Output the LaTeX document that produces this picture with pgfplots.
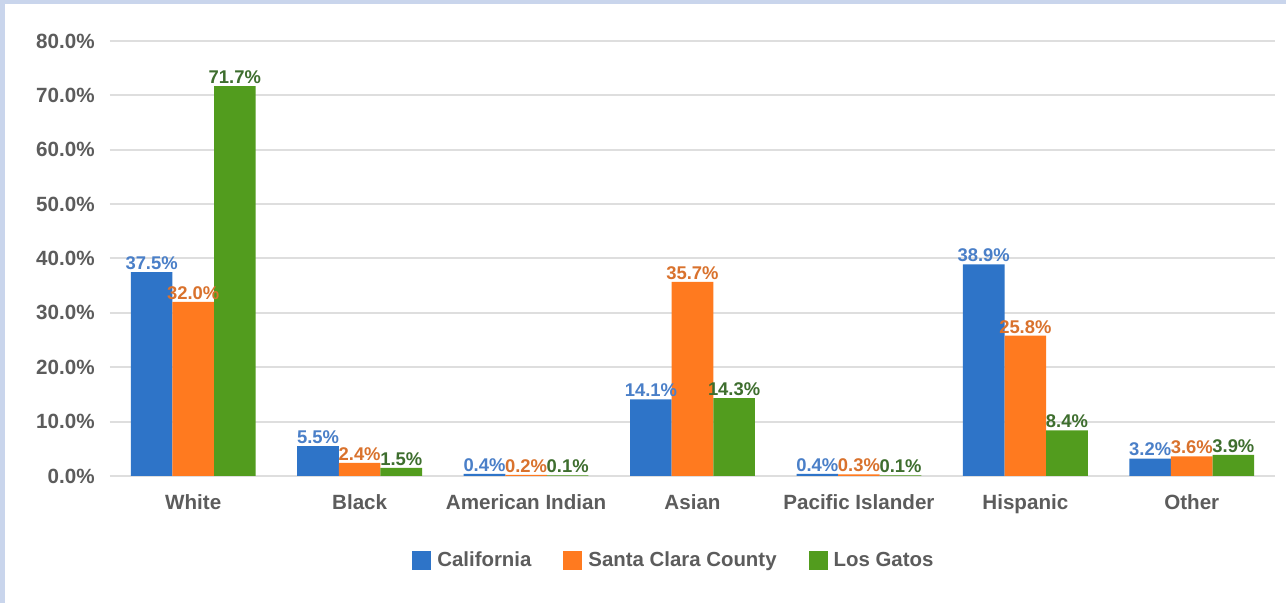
\documentclass[border=0pt]{standalone}
\usepackage{fontspec}
\setmainfont{Liberation Sans}
\usepackage{pgfplots}
\pgfplotsset{compat=1.18}
\definecolor{frameblue}{HTML}{C9D5EC}
\definecolor{cblue}{HTML}{2E74C8}
\definecolor{corange}{HTML}{FF7A1F}
\definecolor{cgreen}{HTML}{529C1E}
\definecolor{lblue}{HTML}{4A7FC8}
\definecolor{lorange}{HTML}{D9722D}
\definecolor{lgreen}{HTML}{3E6E2E}
\definecolor{txtgray}{HTML}{5C5C5C}
\definecolor{gridgray}{HTML}{DEDEDE}
\begin{document}
\begin{tikzpicture}
\fill[frameblue] (-55pt,-63.5pt) rectangle (588pt,238pt);
\fill[white] (-52.5pt,-63.5pt) rectangle (588pt,236pt);
\begin{axis}[
  at={(0pt,0pt)}, anchor=south west,
  scale only axis,
  width=582.5pt, height=217.5pt,
  ybar=0pt, bar width=20.8pt,
  xmin=-0.5, xmax=6.5,
  ymin=0, ymax=80,
  xtick={0,1,2,3,4,5,6},
  xticklabels={White,Black,American Indian,Asian,Pacific Islander,Hispanic,Other},
  ytick={0,10,20,30,40,50,60,70,80},
  yticklabel={\pgfmathprintnumber[fixed,fixed zerofill,precision=1,assume math mode=true]{\tick}\%},
  yticklabel style={anchor=east, inner sep=0pt, xshift=-7.5pt, text=txtgray, font=\fontsize{10.3}{12}\selectfont\bfseries},
  xticklabel style={anchor=base, inner sep=0pt, yshift=-17pt, text=txtgray, font=\fontsize{10.3}{12}\selectfont\bfseries},
  major tick length=0pt,
  axis line style={draw=none},
  ymajorgrids,
  major grid style={draw=gridgray, line width=1pt},
  nodes near coords={\pgfmathprintnumber[fixed,fixed zerofill,precision=1,assume math mode=true]{\pgfplotspointmeta}\%},
  nodes near coords style={anchor=south, inner sep=1pt, font=\fontsize{9.2}{11}\selectfont\bfseries},
  legend columns=3,
  legend style={at={(0.2592,-0.1954)}, anchor=west, draw=none, fill=none, inner sep=0pt,
    nodes={inner sep=0pt, anchor=west, text=txtgray, font=\fontsize{10.2}{12}\selectfont\bfseries},
    /tikz/every odd column/.append style={column sep=3pt},
    /tikz/every even column/.append style={column sep=16pt}},
  legend image code/.code={\fill[#1] (0pt,-4.75pt) rectangle (9.5pt,4.75pt);},
]
\addplot[fill=cblue, draw=none, every node near coord/.append style={text=lblue}] coordinates {(0,37.5) (1,5.5) (2,0.4) (3,14.1) (4,0.4) (5,38.9) (6,3.2)};
\addplot[fill=corange, draw=none, every node near coord/.append style={text=lorange}] coordinates {(0,32.0) (1,2.4) (2,0.2) (3,35.7) (4,0.3) (5,25.8) (6,3.6)};
\addplot[fill=cgreen, draw=none, every node near coord/.append style={text=lgreen}] coordinates {(0,71.7) (1,1.5) (2,0.1) (3,14.3) (4,0.1) (5,8.4) (6,3.9)};
\legend{California, Santa Clara County, Los Gatos}
\end{axis}
\pgfresetboundingbox
\path[use as bounding box] (-55pt,-63.5pt) rectangle (588pt,238pt);
\end{tikzpicture}
\end{document}
